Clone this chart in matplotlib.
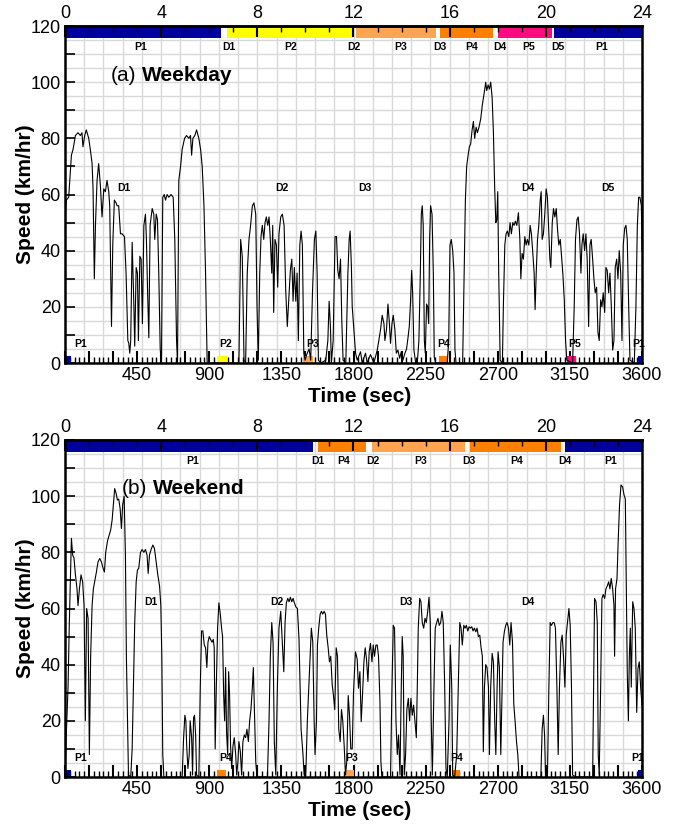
import matplotlib.pyplot as plt
from matplotlib.ticker import MultipleLocator, FuncFormatter

plt.rcParams['font.family'] = ['Liberation Sans', 'DejaVu Sans']

# ---- (a) weekday speed trace (sec, km/hr) ----
weekday_time = [
    0, 8, 23, 33, 40, 50, 65, 81, 96, 106,
    112, 123, 133, 148, 158, 169, 175, 183, 190, 200,
    210, 221, 231, 242, 252, 262, 273, 279, 290, 298,
    308, 319, 325, 335, 346, 356, 371, 381, 392, 398,
    404, 410, 419, 429, 435, 444, 452, 458, 467, 475,
    483, 492, 502, 508, 515, 523, 531, 544, 554, 560,
    569, 577, 585, 594, 602, 610, 619, 627, 637, 648,
    662, 675, 685, 696, 702, 710, 721, 731, 746, 758,
    773, 783, 790, 798, 810, 821, 835, 846, 856, 867,
    877, 887, 1085, 1096, 1106, 1117, 1127, 1137, 1148, 1158,
    1169, 1179, 1190, 1198, 1206, 1215, 1223, 1231, 1240, 1248,
    1256, 1265, 1273, 1281, 1290, 1296, 1302, 1310, 1319, 1327,
    1335, 1346, 1356, 1367, 1377, 1387, 1398, 1406, 1415, 1423,
    1431, 1440, 1448, 1456, 1465, 1473, 1481, 1490, 1498, 1508,
    1523, 1533, 1544, 1556, 1565, 1573, 1581, 1596, 1627, 1640,
    1648, 1656, 1662, 1673, 1685, 1694, 1702, 1710, 1719, 1727,
    1735, 1752, 1765, 1773, 1779, 1787, 1792, 1802, 1813, 1823,
    1844, 1854, 1875, 1885, 1906, 1927, 1948, 1958, 1969, 1979,
    1990, 1996, 2006, 2015, 2023, 2031, 2040, 2048, 2058, 2067,
    2077, 2088, 2098, 2108, 2121, 2131, 2140, 2148, 2156, 2163,
    2169, 2177, 2188, 2198, 2208, 2217, 2223, 2229, 2235, 2242,
    2248, 2256, 2263, 2269, 2275, 2281, 2290, 2298, 2304, 2313,
    2385, 2394, 2402, 2410, 2419, 2427, 2433, 2440, 2481, 2490,
    2498, 2506, 2515, 2523, 2531, 2540, 2548, 2556, 2565, 2573,
    2583, 2594, 2604, 2615, 2625, 2631, 2640, 2648, 2656, 2665,
    2673, 2681, 2688, 2694, 2700, 2706, 2715, 2729, 2735, 2744,
    2752, 2760, 2769, 2777, 2785, 2794, 2802, 2810, 2819, 2829,
    2838, 2844, 2852, 2860, 2869, 2877, 2885, 2894, 2902, 2910,
    2919, 2927, 2933, 2940, 2948, 2956, 2965, 2971, 2977, 2985,
    2994, 3002, 3010, 3019, 3025, 3031, 3040, 3048, 3056, 3065,
    3073, 3081, 3090, 3098, 3106, 3115, 3123, 3131, 3167, 3177,
    3185, 3194, 3202, 3210, 3219, 3225, 3233, 3242, 3250, 3258,
    3267, 3275, 3283, 3292, 3300, 3308, 3317, 3325, 3333, 3342,
    3350, 3358, 3367, 3375, 3383, 3392, 3400, 3408, 3417, 3425,
    3433, 3442, 3450, 3458, 3467, 3475, 3483, 3492, 3500, 3508,
    3517, 3525, 3552, 3562, 3571, 3579, 3587, 3596, 3600,
]
weekday_speed = [
    50, 58, 59, 68, 74, 76, 81, 82, 81, 82,
    77, 81, 83, 80, 76, 71, 62, 30, 49, 65,
    71, 63, 52, 62, 61, 65, 61, 56, 13, 42,
    58, 57, 56, 56, 46, 46, 45, 32, 8, 7,
    3.5, 8, 43, 22, 6, 34, 32, 8, 38, 37,
    14, 49, 53, 44, 26, 9, 49, 55, 53, 44,
    53, 51, 32, 5, 0, 59, 60, 58, 60, 59,
    60, 59, 44, 8, 0, 65, 70, 76, 80, 81,
    80, 81, 74, 80, 81, 83, 80, 76, 70, 56,
    32, 0, 0, 44, 38, 1, 0, 32, 44, 49,
    56, 57, 53, 20, 1, 32, 45, 49, 44, 50,
    52, 49, 52, 44, 32, 49, 18, 44, 42, 27,
    46, 52, 53, 49, 26, 13, 25, 33, 37, 22,
    34, 22, 32, 8, 42, 47, 42, 3.5, 1, 3,
    5, 1, 25, 44, 47, 32, 1, 0, 1, 8,
    22, 13, 0, 8, 45, 45, 33, 30, 37, 15,
    1, 0, 32, 44, 47, 34, 20, 12, 3.5, 1,
    4, 0, 3.5, 0, 3, 0, 4.6, 8, 12, 17,
    14, 8, 12, 21, 15, 7, 14, 17, 12, 3.5,
    4.6, 1.7, 4, 1, 3.5, 5, 9, 13, 22, 33,
    25, 4.6, 0, 0, 8, 32, 53, 56, 49, 8,
    3.5, 21, 20, 14, 44, 56, 53, 32, 2, 0,
    0, 8, 42, 44, 40, 32, 4.6, 0, 0, 32,
    58, 70, 74, 77, 78, 83, 86, 80, 84, 82,
    84, 87, 92, 96, 100, 97, 99, 97.5, 100, 94.5,
    82, 62, 50, 51, 61, 32, 1, 0, 20, 42,
    46, 47, 45, 50, 46, 50, 49, 50.5, 49, 53.5,
    44, 30, 39, 37, 45, 42, 44, 42, 49, 46,
    39, 32, 19, 32, 44, 49, 58, 61, 44, 46,
    53.5, 62, 59, 46, 37, 34, 50, 55, 52, 55,
    47.5, 42, 44, 38, 32, 22.5, 8, 1, 0, 20,
    44, 51, 52, 46, 32, 42, 46, 40, 46, 37,
    13, 42, 44, 37, 30, 25, 27, 11, 8, 22.5,
    20, 25, 18, 34, 33, 25, 32, 21, 4.6, 8,
    34, 37, 30, 40, 32, 8, 42, 48, 49, 44,
    20, 1, 0, 20, 49, 59, 59, 56, 40,
]

# ---- (b) weekend speed trace (sec, km/hr) ----
weekend_time = [
    0, 8, 19, 27, 40, 48, 56, 65, 75, 81,
    90, 100, 110, 119, 127, 135, 144, 152, 160, 169,
    177, 185, 196, 206, 217, 227, 238, 246, 254, 265,
    275, 285, 294, 302, 310, 319, 327, 335, 344, 352,
    360, 369, 377, 383, 390, 396, 410, 419, 427, 435,
    444, 452, 460, 471, 481, 492, 502, 512, 519, 527,
    537, 548, 558, 569, 579, 590, 598, 604, 610, 617,
    731, 740, 748, 754, 760, 767, 775, 781, 790, 796,
    802, 808, 815, 821, 835, 844, 852, 860, 869, 877,
    885, 892, 900, 908, 917, 925, 931, 937, 944, 952,
    960, 969, 977, 983, 990, 996, 1002, 1008, 1015, 1021,
    1027, 1033, 1040, 1048, 1056, 1065, 1071, 1079, 1085, 1094,
    1102, 1110, 1119, 1127, 1135, 1144, 1152, 1160, 1169, 1175,
    1181, 1190, 1198, 1263, 1273, 1281, 1290, 1298, 1306, 1315,
    1325, 1335, 1346, 1356, 1365, 1373, 1381, 1390, 1398, 1406,
    1415, 1423, 1431, 1440, 1450, 1460, 1467, 1473, 1479, 1485,
    1492, 1502, 1512, 1521, 1529, 1537, 1546, 1554, 1560, 1569,
    1575, 1583, 1592, 1600, 1608, 1617, 1625, 1633, 1642, 1650,
    1658, 1667, 1675, 1683, 1692, 1700, 1708, 1717, 1725, 1733,
    1742, 1750, 1758, 1767, 1775, 1783, 1792, 1800, 1812, 1823,
    1831, 1840, 1848, 1856, 1865, 1873, 1881, 1890, 1898, 1906,
    1915, 1923, 1931, 1940, 1948, 1956, 1965, 1971, 1977, 2031,
    2040, 2048, 2056, 2065, 2073, 2081, 2090, 2098, 2104, 2110,
    2117, 2125, 2133, 2142, 2150, 2158, 2167, 2175, 2183, 2192,
    2198, 2204, 2213, 2221, 2229, 2238, 2246, 2254, 2263, 2271,
    2279, 2285, 2292, 2302, 2310, 2319, 2327, 2335, 2344, 2352,
    2360, 2369, 2377, 2385, 2396, 2404, 2413, 2419, 2431, 2444,
    2454, 2463, 2471, 2479, 2488, 2496, 2504, 2513, 2521, 2529,
    2538, 2546, 2554, 2563, 2571, 2579, 2588, 2596, 2604, 2610,
    2617, 2625, 2633, 2642, 2648, 2656, 2665, 2673, 2681, 2688,
    2696, 2702, 2710, 2719, 2727, 2733, 2742, 2750, 2758, 2767,
    2775, 2783, 2792, 2800, 2808, 2817, 2825, 2833, 2969, 2977,
    2985, 2992, 2998, 3010, 3019, 3027, 3035, 3044, 3052, 3060,
    3069, 3077, 3085, 3094, 3102, 3110, 3119, 3127, 3135, 3144,
    3152, 3160, 3167, 3188, 3292, 3298, 3304, 3313, 3321, 3327,
    3333, 3342, 3350, 3358, 3367, 3375, 3383, 3392, 3400, 3408,
    3417, 3425, 3429, 3435, 3444, 3452, 3460, 3469, 3479, 3488,
    3496, 3502, 3508, 3515, 3521, 3527, 3533, 3542, 3550, 3558,
    3567, 3575, 3583, 3592, 3600,
]
weekend_speed = [
    0, 15, 32, 55, 85, 79, 78, 72, 67, 61,
    67, 72, 69.5, 61, 20, 60, 56.5, 8, 43, 61,
    67, 69.5, 73, 76.6, 77.8, 76.6, 74.3, 73, 80, 84,
    86, 88, 91.5, 97, 102.7, 101, 98.6, 99, 95.6, 88.5,
    97, 100, 79, 43, 20, 0.7, 0, 10, 32, 55,
    69.5, 73.7, 74.3, 80, 81, 80, 81, 79, 72.5, 79,
    81, 82.6, 81.4, 76.6, 72, 68, 61, 43, 8, 0,
    0, 14, 22, 20, 10, 3, 8, 20, 14, 0.7,
    21, 22, 15, 0.7, 0, 32, 52, 52, 47, 46,
    39, 48, 50, 49, 48, 49, 46, 10, 32, 53,
    62, 58, 53, 50, 29, 20, 39, 16, 8, 37.5,
    29, 11, 3, 11, 14, 8, 0.7, 5.5, 12.6, 9,
    0.7, 12.6, 15, 14, 17, 12.6, 20, 24, 32, 39,
    26, 5.5, 0, 0, 20, 43, 55, 48, 12.6, 0.7,
    32, 53, 59, 48, 37.5, 55, 62, 63.6, 62.4, 64,
    62.4, 63.6, 62, 60.6, 60, 49, 32, 17, 12.6, 7.8,
    0.7, 0, 20, 32, 43, 53, 48, 21, 8, 20,
    47, 53, 58, 59, 58, 59, 58, 50.5, 46, 41,
    43, 33, 29, 24, 46, 43, 17, 12.6, 24, 20,
    11, 0.7, 5.5, 29, 22, 10, 10, 30, 44.6, 42,
    31.6, 37.5, 19.7, 29, 41, 46, 42, 34, 44.6, 47.6,
    41, 47, 43, 47, 47, 43, 27, 5.5, 0, 0,
    32, 54, 53, 20, 8, 15, 0.7, 32, 50, 43,
    0.7, 8, 24, 28, 20, 28, 22, 25.6, 20, 14,
    32, 53, 63.6, 62.4, 55, 53, 56.5, 55, 59, 64,
    55, 20, 0.7, 32, 53, 55, 56.5, 54, 55, 59,
    55, 32, 3, 0, 20, 47, 32, 0.7, 0, 8,
    32, 55, 53, 47, 54, 53, 54, 52, 53.5, 53,
    53.5, 52, 53, 51.7, 53, 50, 50.5, 46, 43, 9,
    32, 40, 39, 32, 8, 32, 44, 41, 20, 8,
    32, 44.6, 39, 8, 32, 48, 52, 54, 55, 53,
    47, 55, 48, 26, 20, 12.6, 8, 0, 0, 17,
    22, 15, 0.7, 0, 32, 55, 54, 55, 55, 53,
    32, 8, 32, 48, 50.5, 43, 32, 50.5, 55, 60,
    54, 32, 0.7, 0, 0, 32, 63.6, 62.4, 55, 8,
    0.7, 32, 63.6, 65, 63.6, 67, 68, 69.5, 67, 70.7,
    67, 61, 43, 67, 70.7, 85, 97, 104, 103.3, 100.4,
    99, 67, 37.5, 20, 43, 53, 32, 62.4, 60, 53,
    23, 38.7, 41, 31.6, 25.6,
]

# ---- period bars along the top (hours of day) ----
weekday_periods = ["P1", "P2", "P3", "P4", "P5", "P1"]
weekday_start_hr = [0, 6.75, 12.1, 15.58, 18.0, 20.32]
weekday_end_hr = [6.5, 11.98, 15.42, 17.8, 20.24, 24]
weekday_bar_labels = ["P1", "D1", "P2", "D2", "P3", "D3", "P4", "D4", "P5", "D5", "P1"]
weekday_bar_label_hr = [3.15, 6.8, 9.4, 12.0, 13.96, 15.6, 16.9, 18.1, 19.3, 20.5, 22.3]

weekend_periods = ["P1", "P4", "P3", "P4", "P1"]
weekend_start_hr = [0, 10.54, 12.75, 16.83, 20.79]
weekend_end_hr = [10.33, 12.5, 16.63, 20.63, 24]
weekend_bar_labels = ["P1", "D1", "P4", "D2", "P3", "D3", "P4", "D4", "P1"]
weekend_bar_label_hr = [5.3, 10.5, 11.6, 12.8, 14.8, 16.8, 18.8, 20.8, 22.7]

# driving-segment labels and period labels near the axis (sec)
weekday_drive = ["D1", "D2", "D3", "D4", "D5"]
weekday_drive_sec = [367, 1356, 1869, 2885, 3389]
weekend_drive = ["D1", "D2", "D3", "D4"]
weekend_drive_sec = [533, 1325, 2125, 2885]

weekday_low = ["P1", "P2", "P3", "P4", "P5", "P1"]
weekday_low_sec = [96, 1002, 1544, 2365, 3181, 3582]
weekend_low = ["P1", "P4", "P3", "P4", "P1"]
weekend_low_sec = [96, 1002, 1790, 2444, 3575]

# small period markers on the time axis (sec)
weekday_mark = ["P1", "P2", "P3", "P4", "P5", "P1"]
weekday_mark_start = [0, 950, 1488, 2335, 3133, 3573]
weekday_mark_end = [38, 1010, 1548, 2390, 3190, 3600]
weekend_mark = ["P1", "P4", "P3", "P4", "P1"]
weekend_mark_start = [0, 950, 1745, 2412, 3573]
weekend_mark_end = [40, 1003, 1803, 2464, 3600]

colors = {"P1": "#00009c", "P2": "#ffff00", "P3": "#ffa552",
          "P4": "#ff8000", "P5": "#ff0a80"}


def panel(ax, t, v, periods, p0, p1, blabels, bhr, dlabels, dsec,
          llabels, lsec, mlabels, m0, m1, tag, name):
    ax.set_xlim(0, 3600)
    ax.set_ylim(0, 120)

    for g in range(120, 3600, 120):
        ax.axvline(g, color="#d9d9d9", lw=1.0, zorder=0.5)
    for g in range(5, 120, 5):
        ax.axhline(g, color="#d9d9d9", lw=1.0, zorder=0.5)

    for p, a, b in zip(periods, p0, p1):
        ax.broken_barh([(a * 150, (b - a) * 150)], (115.7, 4.3),
                       facecolors=colors[p], zorder=2)
    for p, a, b in zip(mlabels, m0, m1):
        ax.broken_barh([(a, b - a)], (0, 2.6), facecolors=colors[p], zorder=2)

    ax.plot(t, v, color="black", lw=0.8, zorder=3)

    for lab, h in zip(blabels, bhr):
        ax.text(h * 150, 112.5, lab, ha="center", va="center",
                fontsize=7.5, fontweight="bold", zorder=4)
    for lab, s in zip(dlabels, dsec):
        ax.text(s, 62.3, lab, ha="center", va="center",
                fontsize=7.5, fontweight="bold", zorder=4)
    for lab, s in zip(llabels, lsec):
        ax.text(s, 6.8, lab, ha="center", va="center",
                fontsize=7.5, fontweight="bold", zorder=4)

    t1 = ax.text(tag[1], tag[2], tag[0], fontsize=15, va="center", zorder=4)
    ax.annotate(name, xy=(1, 0.5), xycoords=t1, xytext=(4, 0),
                textcoords="offset points", va="center", ha="left",
                fontsize=15, fontweight="bold", zorder=4)

    ax.xaxis.set_major_locator(MultipleLocator(150))
    ax.xaxis.set_minor_locator(MultipleLocator(30))
    ax.xaxis.set_major_formatter(FuncFormatter(
        lambda x, _: f"{int(round(x))}" if x > 0 and round(x) % 450 == 0 else ""))
    ax.yaxis.set_major_locator(MultipleLocator(20))
    ax.yaxis.set_minor_locator(MultipleLocator(10))
    ax.tick_params(axis="x", which="major", direction="in", length=9, width=1.5,
                   top=False, labelsize=13, pad=3)
    ax.tick_params(axis="x", which="minor", direction="in", length=4, width=1.0,
                   top=False)
    ax.tick_params(axis="y", which="both", direction="in", length=7, width=1.2,
                   right=False, labelsize=13, pad=3)
    for sp in ax.spines.values():
        sp.set_linewidth(1.8)

    ax.set_xlabel("Time (sec)", fontsize=15, fontweight="bold")
    ax.xaxis.set_label_coords(0.51, -0.072)
    ax.set_ylabel("Speed (km/hr)", fontsize=15, fontweight="bold")
    ax.yaxis.set_label_coords(-0.052, 0.5)

    top = ax.secondary_xaxis("top", functions=(lambda s: s / 150, lambda h: h * 150))
    top.set_xticks(range(0, 25, 4))
    top.xaxis.set_minor_locator(MultipleLocator(1))
    top.tick_params(which="major", direction="in", length=8, width=1.5,
                    labelsize=13, pad=3)
    top.tick_params(which="minor", direction="in", length=4, width=1.0)
    top.spines["top"].set_linewidth(1.8)
    top.set_zorder(5)


fig = plt.figure(figsize=(6.81, 8.24), dpi=100)
ax_a = fig.add_axes([65 / 681, 1 - 363 / 824, 577 / 681, 337 / 824])
ax_b = fig.add_axes([65 / 681, 1 - 777 / 824, 577 / 681, 337 / 824])

panel(ax_a, weekday_time, weekday_speed, weekday_periods, weekday_start_hr,
      weekday_end_hr, weekday_bar_labels, weekday_bar_label_hr,
      weekday_drive, weekday_drive_sec, weekday_low, weekday_low_sec,
      weekday_mark, weekday_mark_start, weekday_mark_end,
      ("(a)", 287, 102.3), "Weekday")
panel(ax_b, weekend_time, weekend_speed, weekend_periods, weekend_start_hr,
      weekend_end_hr, weekend_bar_labels, weekend_bar_label_hr,
      weekend_drive, weekend_drive_sec, weekend_low, weekend_low_sec,
      weekend_mark, weekend_mark_start, weekend_mark_end,
      ("(b)", 356, 102.8), "Weekend")

fig.savefig("out.png", dpi=100)
